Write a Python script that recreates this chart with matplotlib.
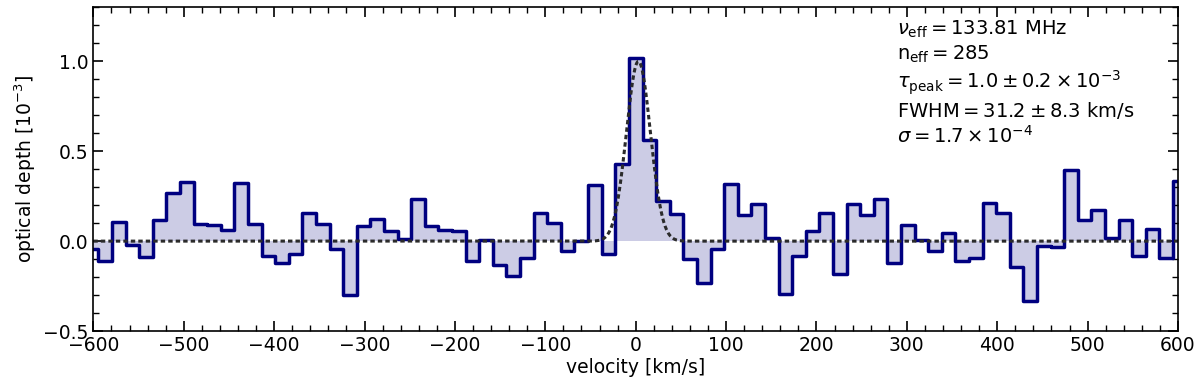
import matplotlib.pyplot as plt
import numpy as np

# channel width [km/s] and channel index (centre = index * width)
chan_width = 15.05
chan_index = np.arange(-40, 41)

# optical depth per channel [1e-3]
tau = [-0.045, -0.111, 0.104, -0.019, -0.091, 0.117, 0.270, 0.330, 0.094, 0.087,
       0.061, 0.326, 0.094, -0.083, -0.119, -0.072, 0.159, 0.098, -0.044, -0.300,
       0.083, 0.122, 0.057, 0.011, 0.233, 0.085, 0.061, 0.057, -0.109, 0.009,
       -0.133, -0.193, -0.096, 0.154, 0.102, -0.054, 0.002, 0.311, -0.072, 0.430,
       1.016,
       0.561, 0.225, 0.149, -0.098, -0.231, -0.044, 0.320, 0.148, 0.206, 0.019,
       -0.294, -0.080, 0.059, 0.154, -0.180, 0.209, 0.144, 0.237, -0.120, 0.087,
       0.009, -0.056, 0.043, -0.111, -0.096, 0.213, 0.159, -0.143, -0.333, -0.028,
       -0.031, 0.394, 0.115, 0.172, 0.015, 0.115, -0.083, 0.070, -0.096, 0.333]

# gaussian fit parameters
fit_amp = 1.0
fit_fwhm = 31.2
fit_center = 3.0

vel = chan_index * chan_width
tau = np.array(tau)

fig = plt.figure(figsize=(12, 3.89), dpi=100)
ax = fig.add_axes([0.0778, 0.149, 0.9039, 0.832])

ax.fill_between(vel, tau, 0, step='mid', color='navy', alpha=0.2, linewidth=0)
ax.step(vel, tau, where='mid', color='navy', linewidth=2.5)

# fitted gaussian (dotted), also draws the zero line away from the peak
vv = np.linspace(-600, 600, 3000)
sig = fit_fwhm / (2 * np.sqrt(2 * np.log(2)))
ax.plot(vv, fit_amp * np.exp(-0.5 * ((vv - fit_center) / sig) ** 2),
        color='#2b2b2b', linestyle=(0, (1.45, 1.0)), linewidth=2.2)

ax.set_xlim(-600, 600)
ax.set_ylim(-0.5, 1.3)
ax.set_xticks([-600, -500, -400, -300, -200, -100, 0, 100, 200, 300, 400, 500, 600])
ax.set_yticks([-0.5, 0.0, 0.5, 1.0])
ax.minorticks_on()
ax.tick_params(which='both', direction='in', top=True, right=True, labelsize=13.5)
ax.tick_params(which='major', length=7, width=1.2)
ax.tick_params(which='minor', length=4, width=1)
for s in ax.spines.values():
    s.set_linewidth(1.2)

ax.set_xlabel('velocity [km/s]', fontsize=13.5, labelpad=2)
ax.set_ylabel(r'optical depth [$10^{-3}$]', fontsize=13.5)

txt = '\n'.join([
    r'$\nu_{\rm eff} = 133.81$ MHz',
    r'n$_{\rm eff} = 285$',
    r'$\tau_{\rm peak} = 1.0 \pm 0.2 \times 10^{-3}$',
    r'FWHM$ = 31.2 \pm 8.3$ km/s',
    r'$\sigma = 1.7 \times 10^{-4}$',
])
ax.text(0.741, 0.965, txt, transform=ax.transAxes, va='top', ha='left', fontsize=14)

fig.savefig('out.png', dpi=100)
